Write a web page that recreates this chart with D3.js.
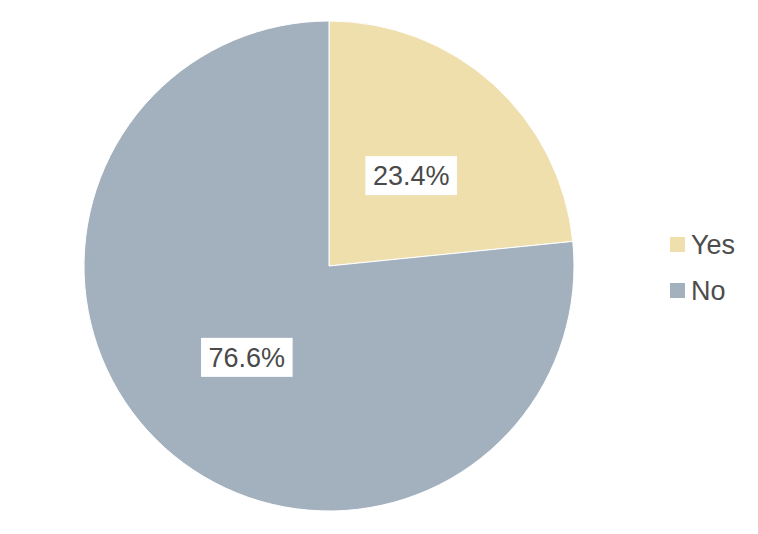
<!DOCTYPE html>
<html><head><meta charset="utf-8">
<script src="https://cdn.jsdelivr.net/npm/d3@7"></script>
<style>body{margin:0;background:#fff}</style>
</head><body>
<svg id="chart" width="758" height="534"></svg>
<script>
const categories = ["Yes", "No"];
const values = [23.4, 76.6];
const colors = ["#EEDFAC", "#A3B1BF"];

const svg = d3.select("#chart");
const cx = 329, cy = 266, r = 245;
const pie = d3.pie().sort(null).value(d => d.v);
const data = pie(categories.map((c, i) => ({c, v: values[i], col: colors[i]})));
const arc = d3.arc().innerRadius(0).outerRadius(r);
const labelArc = d3.arc().innerRadius(r * 0.5).outerRadius(r * 0.5);
const g = svg.append("g").attr("transform", `translate(${cx},${cy})`);
g.selectAll("path").data(data).join("path")
  .attr("d", arc).attr("fill", d => d.data.col)
  .attr("stroke", "#fff").attr("stroke-width", 1);

const lbl = g.selectAll("g.lbl").data(data).join("g").attr("class", "lbl")
  .attr("transform", d => `translate(${labelArc.centroid(d)})`);
lbl.each(function(d) {
  const gg = d3.select(this);
  const t = gg.append("text").text(d.data.v.toFixed(1) + "%")
    .attr("text-anchor", "middle").attr("dy", "0.36em")
    .attr("font-family", "Liberation Sans, Arial, sans-serif")
    .attr("font-size", 27).attr("fill", "#4a4a4a");
  const b = t.node().getBBox();
  gg.insert("rect", "text").attr("x", b.x - 7.5).attr("y", -19)
    .attr("width", b.width + 15).attr("height", 39).attr("fill", "#fff");
});

const leg = svg.append("g");
const ly = d3.scalePoint().domain(categories).range([244, 290]);
categories.forEach((c, i) => {
  leg.append("rect").attr("x", 670).attr("y", ly(c) - 7).attr("width", 15).attr("height", 15).attr("fill", colors[i]);
  leg.append("text").attr("x", 691).attr("y", ly(c) + 10).text(c)
    .attr("font-family", "Liberation Sans, Arial, sans-serif")
    .attr("font-size", 27).attr("fill", "#4d4d4d");
});
</script>
</body></html>
